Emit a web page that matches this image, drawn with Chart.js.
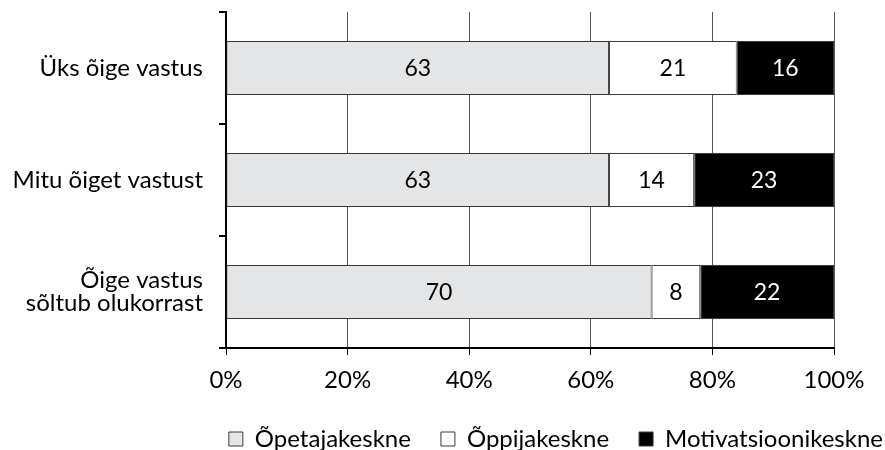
<!DOCTYPE html>
<html>
<head>
<meta charset="utf-8">
<script src="https://cdn.jsdelivr.net/npm/chart.js@4/dist/chart.umd.min.js"></script>
<style>
  html, body { margin: 0; padding: 0; background: #fff; }
  #wrap { width: 885px; height: 450px; }
</style>
</head>
<body>
<div id="wrap"><canvas id="c" width="885" height="450"></canvas></div>
<script>
// Question types (rows) and share of each teaching approach, in percent
const categories = ['Üks õige vastus', 'Mitu õiget vastust', ['Õige vastus', 'sõltub olukorrast']];
const seriesNames = ['Õpetajakeskne', 'Õppijakeskne', 'Motivatsioonikeskne'];
const opetajakeskne = [63, 63, 70];
const oppijakeskne = [21, 14, 8];
const motivatsioonikeskne = [16, 23, 22];
const xTicks = [0, 20, 40, 60, 80, 100];

const FONT = 'Lato, "Open Sans", sans-serif';
const FS = 24;
const fills = ['#e4e5e7', '#ffffff', '#000000'];
const labelColors = ['#000000', '#000000', '#ffffff'];

// Writes each segment's value in the middle of its bar
const valueLabels = {
  id: 'valueLabels',
  afterDatasetsDraw(chart) {
    const ctx = chart.ctx;
    ctx.save();
    ctx.font = (FS - 1) + 'px ' + FONT;
    ctx.textAlign = 'center';
    ctx.textBaseline = 'middle';
    chart.data.datasets.forEach((ds, i) => {
      const meta = chart.getDatasetMeta(i);
      meta.data.forEach((el, j) => {
        const cx = (el.x + el.base) / 2;
        ctx.fillStyle = labelColors[i];
        ctx.fillText(String(ds.data[j]), cx, el.y + 1);
      });
    });
    ctx.restore();
  }
};

new Chart(document.getElementById('c'), {
  type: 'bar',
  data: {
    labels: categories,
    datasets: [opetajakeskne, oppijakeskne, motivatsioonikeskne].map((d, i) => ({
      label: seriesNames[i],
      data: d,
      backgroundColor: fills[i],
      borderColor: '#3a3a3a',
      borderWidth: 1,
      borderSkipped: false,
      categoryPercentage: 0.48,
      barPercentage: 1
    }))
  },
  options: {
    indexAxis: 'y',
    responsive: false,
    animation: false,
    layout: { padding: { top: 12, right: -28, left: 0, bottom: -11 } },
    scales: {
      x: {
        stacked: true,
        min: 0,
        max: 100,
        afterBuildTicks(scale) { scale.ticks = xTicks.map(v => ({ value: v })); },
        afterFit(scale) { scale.paddingRight = 51; scale.height = 49; },
        ticks: {
          callback: v => v + '%',
          font: { family: FONT, size: FS },
          color: '#000',
          padding: 11,
          maxRotation: 0
        },
        grid: { color: '#555', lineWidth: 1, tickColor: '#000', tickLength: 7 },
        border: { color: '#000', width: 2 }
      },
      y: {
        stacked: true,
        afterFit(scale) { scale.width = 226; scale.paddingTop = 0; scale.paddingBottom = 0; },
        ticks: {
          font: { family: FONT, size: FS, lineHeight: 0.98 },
          color: '#000',
          padding: 16
        },
        grid: { drawOnChartArea: false, offset: true, tickColor: '#000', tickLength: 7, lineWidth: 2 },
        border: { color: '#000', width: 2 }
      }
    },
    plugins: {
      legend: {
        position: 'bottom',
        align: 'end',
        labels: {
          font: { family: FONT, size: FS },
          color: '#000',
          boxWidth: 14,
          boxHeight: 14,
          padding: 30
        }
      },
      tooltip: { enabled: false }
    }
  },
  plugins: [valueLabels]
});
</script>
</body>
</html>
